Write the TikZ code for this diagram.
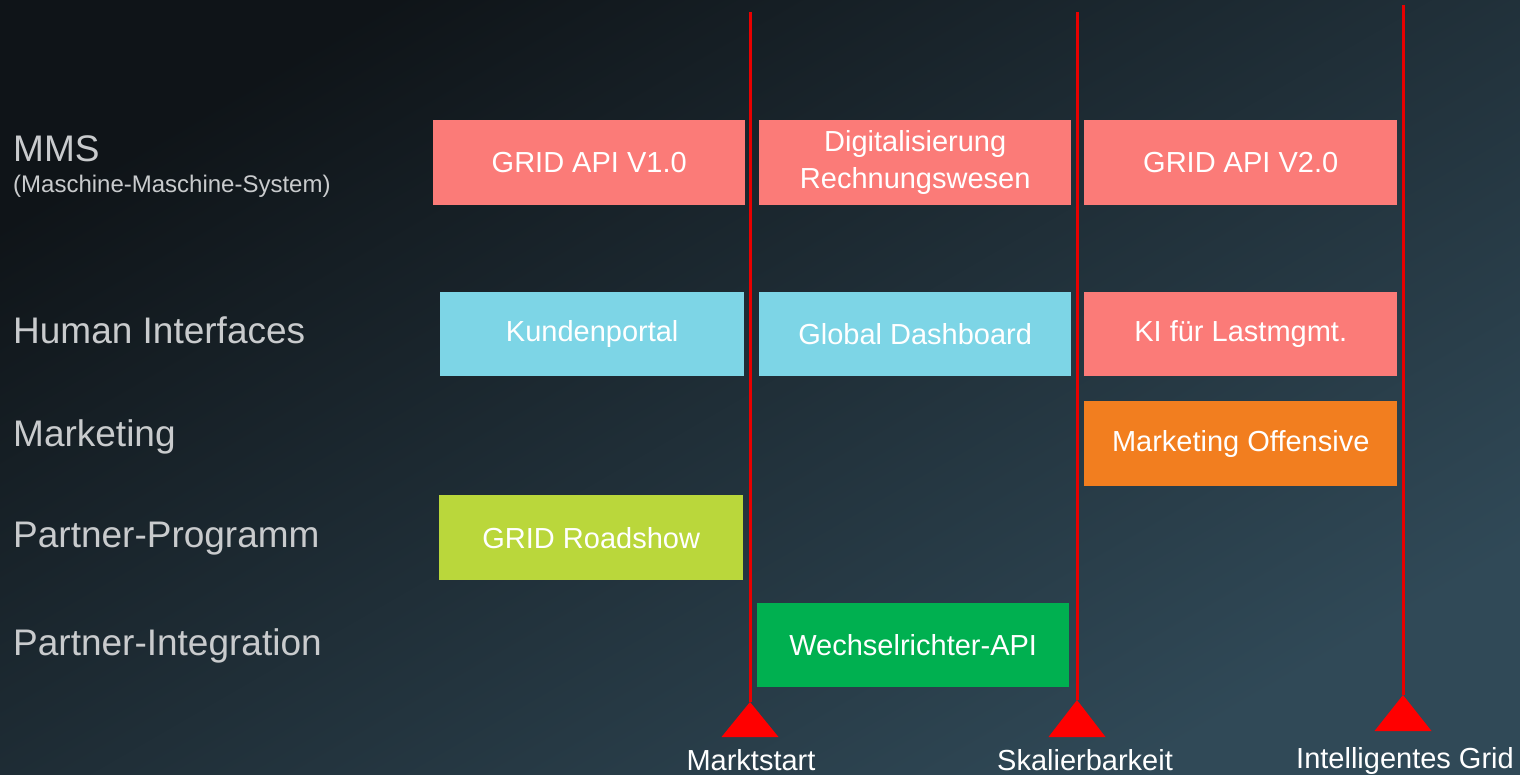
\documentclass[tikz,border=0pt]{standalone}
\usepackage{fontspec}
\setmainfont{Liberation Sans}
\definecolor{bgA}{HTML}{0F1418}
\definecolor{bgB}{HTML}{304957}
\definecolor{salmon}{HTML}{FB7B78}
\definecolor{skyc}{HTML}{7DD5E6}
\definecolor{orangec}{HTML}{F27E1F}
\definecolor{limec}{HTML}{BAD73B}
\definecolor{greenc}{HTML}{00B050}
\definecolor{labelc}{HTML}{C9CBCD}
\definecolor{milered}{HTML}{E80000}
\begin{document}
\begin{tikzpicture}[x=1pt,y=-1pt,
  box/.style={anchor=north west, minimum width=#1, minimum height=85pt, inner sep=0pt,
    text=white, align=center, font=\fontsize{29}{37}\selectfont},
  rowlabel/.style={anchor=west, text=labelc, inner sep=0pt, font=\fontsize{37}{42}\selectfont},
  milelabel/.style={anchor=base, text=white, inner sep=0pt, font=\fontsize{29}{32}\selectfont},
  mileline/.style={draw=milered, line width=3pt},
  miletri/.style={fill=red}]
\useasboundingbox (0,0) rectangle (1520,775);
\shade[top color=bgA, bottom color=bgB, shading angle=30] (0,0) rectangle (1520,775);

% row labels
\node[rowlabel, anchor=base west] (lmms) at (13,162) {MMS};
\node[rowlabel, anchor=base west, font=\fontsize{24}{26}\selectfont] (lmmssub) at (13,193) {(Maschine-Maschine-System)};
\node[rowlabel] (lhi) at (13,330) {Human Interfaces};
\node[rowlabel] (lmk) at (13,437) {Marketing};
\node[rowlabel] (lpp) at (13,539) {Partner-Programm};
\node[rowlabel] (lpi) at (13,646) {Partner-Integration};

% boxes
\node[box=312pt, fill=salmon] (b11) at (433,120) {GRID API V1.0};
\node[box=312pt, fill=salmon] (b12) at (759,120) {Digitalisierung\\Rechnungswesen};
\node[box=313pt, fill=salmon] (b13) at (1084,120) {GRID API V2.0};
\node[box=304pt, fill=skyc, minimum height=84pt] (b21) at (440,292) {Kundenportal};
\node[box=312pt, fill=skyc, minimum height=84pt] (b22) at (759,292) {Global Dashboard};
\node[box=313pt, fill=salmon, minimum height=84pt] (b23) at (1084,292) {KI für Lastmgmt.};
\node[box=313pt, fill=orangec] (b33) at (1084,401) {Marketing Offensive};
\node[box=304pt, fill=limec] (b41) at (439,495) {GRID Roadshow};
\node[box=312pt, fill=greenc, minimum height=84pt] (b52) at (757,603) {Wechselrichter-API};

% milestones
\coordinate (t1) at (750,12);
\coordinate (a1) at (750,702);
\coordinate (t2) at (1077,12);
\coordinate (a2) at (1077,700);
\coordinate (t3) at (1403,5);
\coordinate (a3) at (1403,695);
\draw[mileline] (t1) -- (a1);
\draw[mileline] (t2) -- (a2);
\draw[mileline] (t3) -- (a3);
\fill[miletri] (a1) -- ++(28.5,35) -- ++(-57,0) -- cycle;
\fill[miletri] (a2) -- ++(28.5,37) -- ++(-57,0) -- cycle;
\fill[miletri] (a3) -- ++(28.5,36) -- ++(-57,0) -- cycle;
\node[milelabel] (m1) at (751,770) {Marktstart};
\node[milelabel] (m2) at (1085,770) {Skalierbarkeit};
\node[milelabel] (m3) at (1405,768) {Intelligentes Grid};
\end{tikzpicture}
\end{document}
